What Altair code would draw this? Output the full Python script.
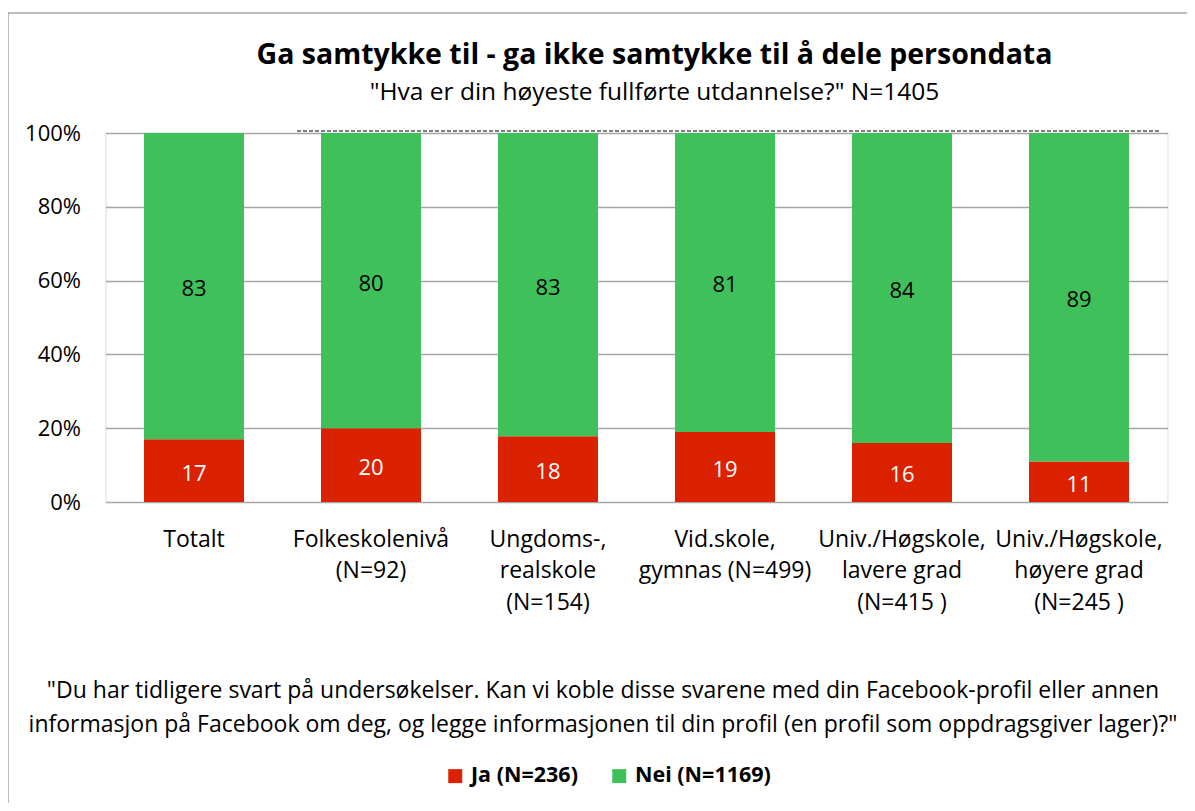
import altair as alt
import pandas as pd

categories = [
    "Totalt",
    "Folkeskolenivå|(N=92)",
    "Ungdoms-,|realskole|(N=154)",
    "Vid.skole,|gymnas (N=499)",
    "Univ./Høgskole,|lavere grad|(N=415 )",
    "Univ./Høgskole,|høyere grad|(N=245 )",
]
ja_values = [17, 20, 18, 19, 16, 11]
nei_values = [83, 80, 83, 81, 84, 89]
series = ["Ja (N=236)", "Nei (N=1169)"]
colors = ["#DB2200", "#40C05B"]
label_colors = ["white", "black"]

title = "Ga samtykke til - ga ikke samtykke til å dele persondata"
subtitle = "\"Hva er din høyeste fullførte utdannelse?\" N=1405"
note = [
    "\"Du har tidligere svart på undersøkelser. Kan vi koble disse svarene med din Facebook-profil eller annen",
    "informasjon på Facebook om deg, og legge informasjonen til din profil (en profil som oppdragsgiver lager)?\"",
]

rows = []
for i, c in enumerate(categories):
    rows.append({"cat": c, "serie": series[0], "value": ja_values[i], "order": 0, "tc": label_colors[0]})
    rows.append({"cat": c, "serie": series[1], "value": nei_values[i], "order": 1, "tc": label_colors[1]})
df = pd.DataFrame(rows)

FONT = "Open Sans"
W, H = 1062, 369

xscale = alt.Scale(domain=categories, paddingInner=0.435, paddingOuter=0.2175)
yscale = alt.Scale(domain=[0, 1])

base = alt.Chart(df).transform_stack(
    stack="value", groupby=["cat"], sort=[alt.SortField("order")],
    as_=["y0", "y1"], offset="normalize"
).transform_calculate(mid="(datum.y0 + datum.y1) / 2")

bars = base.mark_bar().encode(
    x=alt.X("cat:N", scale=xscale, sort=categories,
            axis=alt.Axis(title=note, labelExpr="split(datum.label, '|')",
                          labelAngle=0, labelFontSize=23, labelFont=FONT, labelColor="black",
                          labelLineHeight=31.5, labelPadding=26, ticks=False, domain=False,
                          labelBaseline="top",
                          titleFont=FONT, titleFontSize=23, titleFontWeight="normal",
                          titleColor="black", titleX=497, titleY=195,
                          titleBaseline="alphabetic", titleLineHeight=34, titleAlign="center")),
    y=alt.Y("y0:Q", scale=yscale,
            axis=alt.Axis(title=None, format=".0%", values=[0, 0.2, 0.4, 0.6, 0.8, 1.0],
                          labelFontSize=22, labelFont=FONT, labelColor="black",
                          labelPadding=25, ticks=False, domain=False,
                          grid=True, gridColor="#A6A6A6", gridWidth=1.5)),
    y2="y1:Q",
    color=alt.Color("serie:N", scale=alt.Scale(domain=series, range=colors),
                    legend=alt.Legend(title=None, orient="none", direction="horizontal",
                                      legendX=339, legendY=632, symbolType="square",
                                      symbolSize=196, symbolStrokeWidth=0,
                                      labelFont=FONT, labelFontSize=21.5, labelFontWeight="bold",
                                      labelColor="black", columnPadding=30, labelOffset=5)),
)

labels = base.mark_text(font=FONT, fontSize=22, baseline="middle", dy=3).encode(
    x=alt.X("cat:N", scale=xscale, sort=categories),
    y=alt.Y("mid:Q", scale=yscale),
    text=alt.Text("value:Q"),
    color=alt.Color("tc:N", scale=None),
)

bracket_df = pd.DataFrame({"a": [categories[1]], "b": [categories[5]], "v": [1.0]})
bracket = alt.Chart(bracket_df).mark_rule(
    color="black", strokeDash=[4, 2], strokeWidth=1.2, xOffset=-24, x2Offset=30, yOffset=-2
).encode(
    x=alt.X("a:N", scale=xscale, sort=categories, bandPosition=0),
    x2=alt.X2("b:N", bandPosition=1),
    y=alt.Y("v:Q", scale=yscale),
)

frame = alt.Chart(bracket_df).mark_rect(fill=None, stroke="#A6A6A6", strokeWidth=1.5).encode(
    x=alt.value(-97.5), x2=alt.value(W + 200), y=alt.value(-120), y2=alt.value(H + 500)
)

chart = alt.layer(frame, bars, labels, bracket).properties(
    width=W, height=H,
    title=alt.TitleParams(text=title, subtitle=subtitle, font=FONT, fontSize=28.5,
                          fontWeight="bold", color="black", subtitleFont=FONT,
                          subtitleFontSize=24.5, subtitleColor="black", anchor="middle",
                          frame="group", dx=18, offset=-92, subtitlePadding=11),
    padding={"left": 97.5, "top": 125, "right": 19.5, "bottom": 301},
    autosize=alt.AutoSizeParams(type="none"),
).configure_view(stroke=None).configure(background="white")

chart.save("out.html", embed_options={"renderer": "svg", "actions": False})
